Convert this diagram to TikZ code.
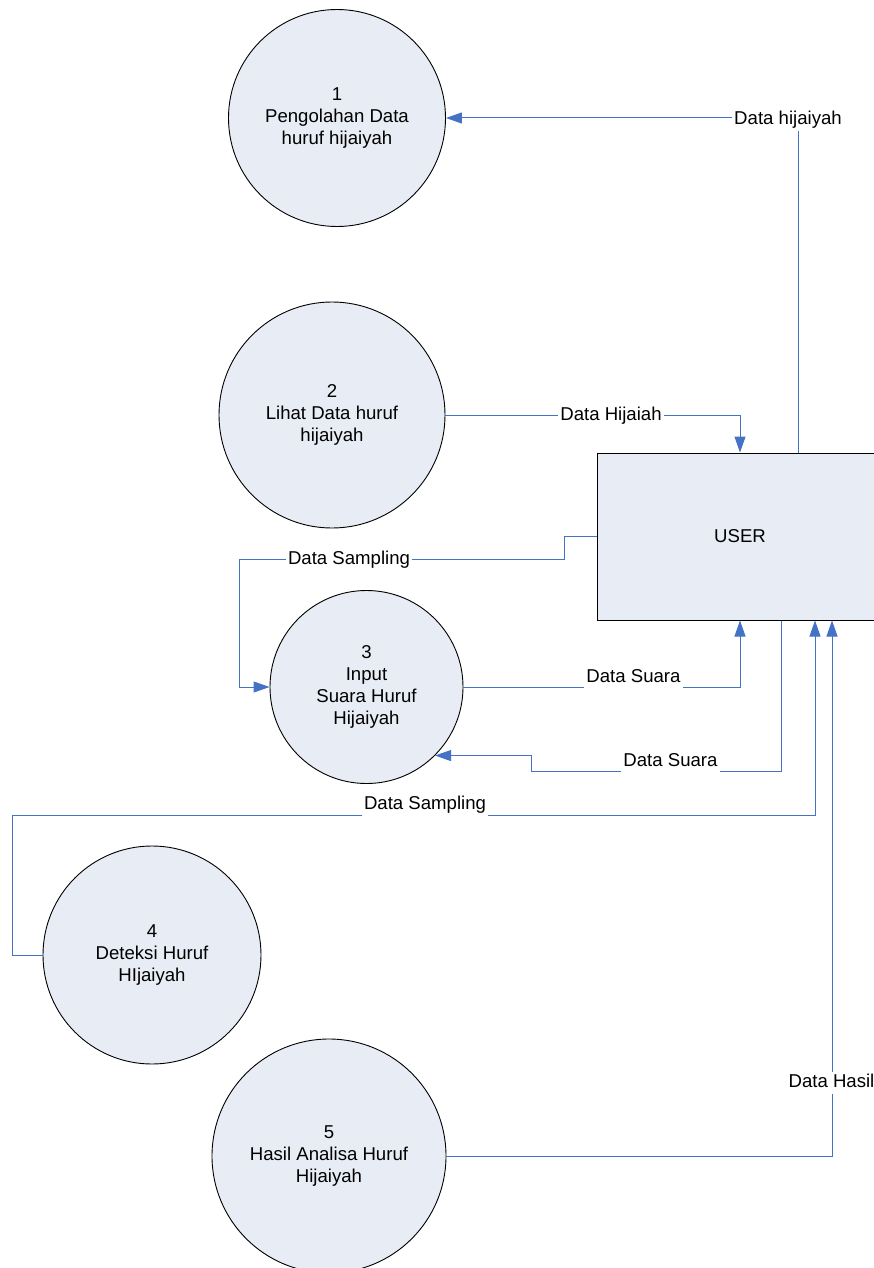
\documentclass[tikz,border=0pt]{standalone}
\usepackage{fontspec}
\setmainfont{Liberation Sans}
\usetikzlibrary{arrows.meta}
\definecolor{flowblue}{RGB}{68,114,196}
\definecolor{procfill}{RGB}{232,236,245}
\begin{document}
\begin{tikzpicture}[x=1pt,y=-1pt,
  txt/.style={font=\fontsize{18.6}{22}\selectfont},
  proc/.style={circle,draw=black,line width=0.9pt,fill=procfill,align=center,inner sep=0pt,txt},
  entity/.style={rectangle,draw=black,line width=1pt,fill=procfill,minimum width=286pt,minimum height=167pt,inner sep=0pt,txt},
  flow/.style={draw=flowblue,line width=1pt},
  arr/.style={-{Triangle[length=16pt,width=11pt,fill=flowblue]}},
  lbl/.style={fill=white,inner sep=2pt,text height=13.5pt,text depth=4pt,txt}]
\clip (0,0) rectangle (874,1268);
% processes
\node[proc,minimum size=217pt] (c1) at (337,118) {1\\Pengolahan Data\\huruf hijaiyah};
\node[proc,minimum size=226pt] (c2) at (332,415) {2\\Lihat Data huruf\\hijaiyah};
\node[proc,minimum size=193pt] (c3) at (366.5,687) {3\\Input\\Suara Huruf\\Hijaiyah};
\node[proc,minimum size=218pt] (c4) at (152,955) {4\\Deteksi Huruf\\HIjaiyah};
\node[proc,minimum size=234pt] (c5) at (329,1156) {5\\Hasil Analisa Huruf\\Hijaiyah};
% external entity
\node[entity] (user) at (740,536.5) {USER};
% flows
\draw[flow,arr] ([xshift=58pt]user.north) |- (c1);
\draw[flow,arr] (c2) -| (user.north);
\draw[flow,arr] (user.west) -- ++(-32,0) |- (239,559) |- (c3);
\draw[flow,arr] (c3) -| (user.south);
\draw[flow,arr] ([xshift=41pt]user.south) |- (531,771) |- (c3.-45);
\draw[flow,arr] (c4.west) -| (12,815) -| ([xshift=75pt]user.south);
\draw[flow,arr] (c5.east) -| ([xshift=92pt]user.south);
% labels
\node[lbl] (l1) at (788,120) {Data hijaiyah};
\node[lbl] (l2) at (611,416) {Data Hijaiah};
\node[lbl] (l3) at (349,560) {Data Sampling};
\node[lbl] (l4) at (633.5,678) {Data Suara};
\node[lbl] (l5) at (670.5,762) {Data Suara};
\node[lbl] (l6) at (425,805) {Data Sampling};
\node[lbl] (l7) at (831.5,1083) {Data Hasil};
\end{tikzpicture}
\end{document}
